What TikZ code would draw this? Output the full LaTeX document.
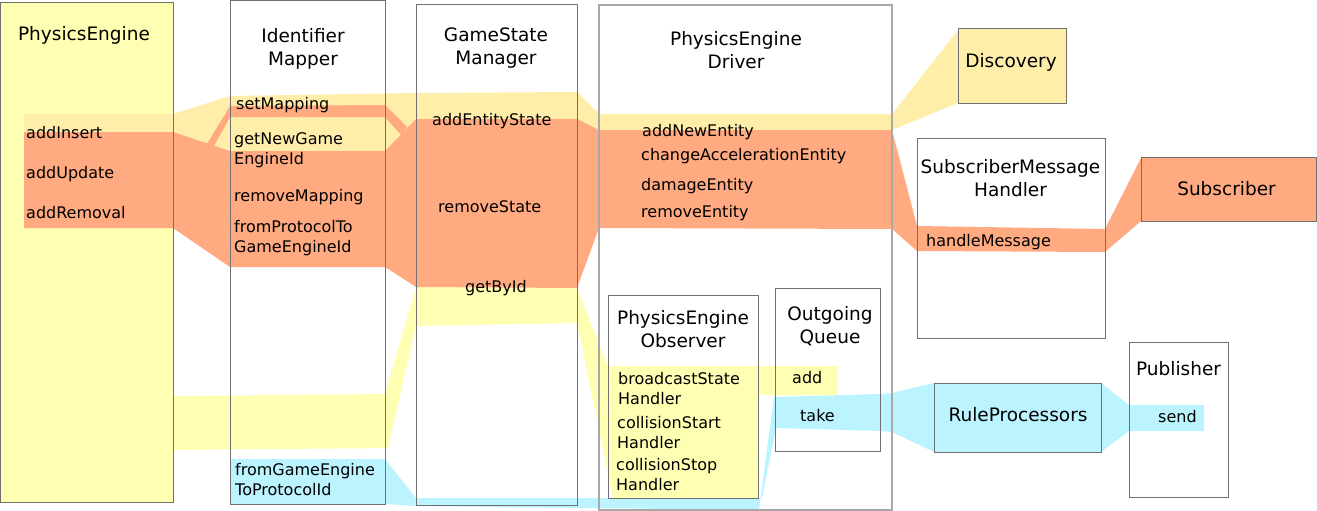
\documentclass[tikz,border=0pt]{standalone}
\usepackage{fontspec}
\setmainfont{DejaVu Sans}
\usepackage{amsmath}

\definecolor{flowYellow}{HTML}{FFFFB3}
\definecolor{flowGold}{HTML}{FFEEAA}
\definecolor{flowOrange}{HTML}{FFAA80}
\definecolor{flowCyan}{HTML}{BBF4FF}
\definecolor{boxGray}{HTML}{707070}
\definecolor{driverGray}{HTML}{A8A8A8}

\newcommand{\twolines}[3][c]{\begin{tabular}[t]{@{}#1@{}}#2\\#3\end{tabular}}

\begin{document}
\begin{tikzpicture}[x=1pt,y=-1pt,
box/.style={draw=boxGray,line width=0.9pt},
heading/.style={anchor=base,inner sep=0pt,font=\fontsize{18.5}{23}\selectfont},
method/.style={anchor=base west,inner sep=0pt,font=\fontsize{16}{20}\selectfont}]

\useasboundingbox (0,0) rectangle (1317,511);

\fill [flowYellow] (0,2) rectangle (173,502);

\fill [flowGold] (24,114) -- (173,114) -- (230,96) -- (416,93) -- (577,92) -- (599,114) -- (892,114) -- (958,30) -- (958,103) -- (892,130) -- (599,130) -- (577,119) -- (416,119) -- (385,151) -- (230,151) -- (173,132) -- (24,132) -- cycle;

\fill [flowYellow] (173,396) -- (385,394) -- (416,287) -- (577,288) -- (608,366) -- (838,366) -- (838,395) -- (758,395) -- (758,498) -- (613,498) -- (577,323) -- (416,326) -- (388,448) -- (173,450) -- cycle;

\fill [flowCyan] (230,459) -- (385,459) -- (416,498) -- (762,498) -- (776,428) -- (880,431) -- (892,432) -- (934,452) -- (1101,452) -- (1129,431) -- (1204,431) -- (1204,405) -- (1129,405) -- (1101,383) -- (934,383) -- (892,393) -- (880,394) -- (774,397) -- (759,510) -- (416,506) -- (385,504) -- (230,504) -- cycle;

\fill [flowOrange] (24,132) -- (173,132) -- (230,151) -- (385,151) -- (416,119) -- (577,119) -- (599,130) -- (892,130) -- (917,226) -- (1105,229) -- (1141,158) -- (1141,221) -- (1105,252) -- (917,251) -- (892,229) -- (599,228) -- (577,288) -- (416,287) -- (385,267) -- (230,267) -- (173,228) -- (24,228) -- cycle;

\fill [flowOrange] (207,144) -- (230,106) -- (385,105) -- (407,127) -- (401,135) -- (385,117) -- (230,117) -- (214,146) -- cycle;

\draw [box] (0,2) rectangle (173,502);

\draw [box] (230,0.5) rectangle (385.5,504);

\draw [box] (416.5,4) rectangle (577,505);

\draw [box,draw=driverGray,line width=1.3pt] (599,5) rectangle (892,510);

\draw [box,fill=flowGold] (958.5,28.5) rectangle (1066,103);

\draw [box] (917.5,138.5) rectangle (1105.5,338);

\draw [box,fill=flowOrange] (1141.5,157.5) rectangle (1316,221.5);

\draw [box] (608.5,295) rectangle (758.5,498.5);

\draw [box] (775,288.5) rectangle (880.5,451);

\draw [box,fill=flowCyan] (934.5,383.5) rectangle (1101.5,452);

\draw [box] (1129.5,342.5) rectangle (1228.5,497.5);

\node [heading] (peTitle) at (84,41) {PhysicsEngine};
\node [heading] (mapperTitle) at (303,42.5) {\twolines{Identifier}{Mapper}};
\node [heading] (stateTitle) at (496,42) {\twolines{GameState}{Manager}};
\node [heading] (driverTitle) at (736,46) {\twolines{PhysicsEngine}{Driver}};
\node [heading] (discoveryTitle) at (1011,67) {Discovery};
\node [heading] (handlerTitle) at (1010.5,173) {\twolines{SubscriberMessage}{Handler}};
\node [heading] (subscriberTitle) at (1226.5,195) {Subscriber};
\node [heading] (observerTitle) at (683,324) {\twolines{PhysicsEngine}{Observer}};
\node [heading] (queueTitle) at (830,320) {\twolines{Outgoing}{Queue}};
\node [heading] (rulesTitle) at (1018,421) {RuleProcessors};
\node [heading] (publisherTitle) at (1178.5,375) {Publisher};

\node [method] (addInsert) at (26,138) {addInsert};
\node [method] (addUpdate) at (26,178) {addUpdate};
\node [method] (addRemoval) at (26,218) {addRemoval};
\node [method] (setMapping) at (236,110) {setMapping};
\node [method] (getNewId) at (234,144) {\twolines[l]{getNewGame}{EngineId}};
\node [method] (removeMapping) at (234,201) {removeMapping};
\node [method] (fromProtocol) at (234,232) {\twolines[l]{fromProtocolTo}{GameEngineId}};
\node [method] (fromEngine) at (235,475) {\twolines[l]{fromGameEngine}{ToProtocolId}};
\node [method] (addEntityState) at (432,125) {addEntityState};
\node [method] (removeState) at (438,212) {removeState};
\node [method] (getById) at (465,292) {getById};
\node [method] (addNewEntity) at (642,136) {addNewEntity};
\node [method] (changeAcceleration) at (641,160) {changeAccelerationEntity};
\node [method] (damageEntity) at (641,190) {damageEntity};
\node [method] (removeEntity) at (641,217) {removeEntity};
\node [method] (handleMessage) at (926,246) {handleMessage};
\node [method] (broadcastState) at (618,384) {\twolines[l]{broadcastState}{Handler}};
\node [method] (collisionStart) at (617,428) {\twolines[l]{collisionStart}{Handler}};
\node [method] (collisionStop) at (616,470) {\twolines[l]{collisionStop}{Handler}};
\node [method] (queueAdd) at (792,383) {add};
\node [method] (queueTake) at (800,421) {take};
\node [method] (publisherSend) at (1158,422) {send};

\end{tikzpicture}
\end{document}
